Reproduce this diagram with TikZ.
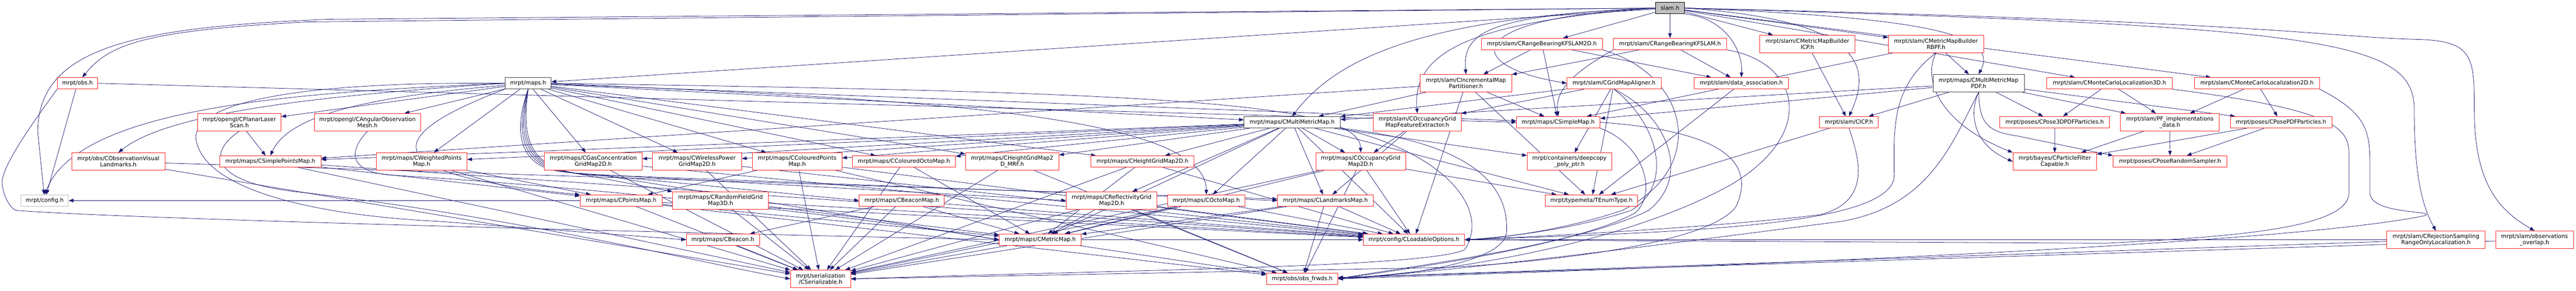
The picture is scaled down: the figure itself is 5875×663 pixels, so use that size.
\documentclass[tikz,border=0pt]{standalone}
\usepackage{fontspec}
\newfontfamily\nodefont{DejaVu Sans}
\usetikzlibrary{arrows.meta}
\definecolor{mblue}{HTML}{191970}
\definecolor{nred}{HTML}{FF2020}
\definecolor{ngray}{HTML}{BFBFBF}
\definecolor{nblack}{HTML}{404040}
\pgfdeclarelayer{bg}
\pgfsetlayers{bg,main}
\tikzset{
  nd/.style={draw=nred, line width=1pt, fill=white, inner sep=0pt, align=center,
    minimum height=26pt, font=\nodefont\fontsize{12.8}{14}\selectfont},
  two/.style={minimum height=40pt},
  w/.style={minimum width=#1pt},
  blk/.style={draw=nblack},
  e/.style={draw=mblue, line width=0.9pt, -{Triangle[length=11pt,width=8pt]}},
}
\begin{document}
\begin{tikzpicture}[x=1pt,y=-1pt]
\useasboundingbox (0,0) rectangle (5875,663);
% rank 0
\node[nd,w=66.5,draw=black,fill=ngray] (slam) at (3808.7,18.4) {slam.h};
% rank 1
\node[nd,w=275.7] (rbkf2d) at (3516.6,100.4) {mrpt/slam/CRangeBearingKFSLAM2D.h};
\node[nd,w=258.6] (rbkf) at (3808.7,100.4) {mrpt/slam/CRangeBearingKFSLAM.h};
\node[nd,two,w=216.7] (mmbicp) at (4122,100.3) {mrpt/slam/CMetricMapBuilder\\ICP.h};
\node[nd,two,w=217] (mmbrbpf) at (4415.3,100.3) {mrpt/slam/CMetricMapBuilder\\RBPF.h};
% rank 2
\node[nd,w=92.3] (obs) at (176.8,190) {mrpt/obs.h};
\node[nd,w=105,blk] (maps) at (1204.5,190) {mrpt/maps.h};
\node[nd,two,w=208.6] (incpart) at (3343.3,190) {mrpt/slam/CIncrementalMap\\Partitioner.h};
\node[nd,w=214.3] (gma) at (3681,190) {mrpt/slam/CGridMapAligner.h};
\node[nd,w=214.7] (da) at (3971.3,190) {mrpt/slam/data\_association.h};
\node[nd,two,w=208,blk] (mmpdf) at (4512.5,190) {mrpt/maps/CMultiMetricMap\\PDF.h};
\node[nd,w=286] (mcl3d) at (4811,190) {mrpt/slam/CMonteCarloLocalization3D.h};
\node[nd,w=285.5] (mcl2d) at (5147.3,190) {mrpt/slam/CMonteCarloLocalization2D.h};
% rank 3
\node[nd,w=219.6,blk] (mmm) at (2947,279) {mrpt/maps/CMultiMetricMap.h};
\node[nd,two,w=190.4] (planar) at (545.8,279) {mrpt/opengl/CPlanarLaser\\Scan.h};
\node[nd,two,w=242.3] (angular) at (838,279) {mrpt/opengl/CAngularObservation\\Mesh.h};
\node[nd,two,w=200] (ogmfe) at (3232.4,279) {mrpt/slam/COccupancyGrid\\MapFeatureExtractor.h};
\node[nd,w=190.4] (smap) at (3553.8,279) {mrpt/maps/CSimpleMap.h};
\node[nd,w=133.7] (icp) at (4216.8,279) {mrpt/slam/CICP.h};
\node[nd,w=250.7] (p3dpdf) at (4686,279) {mrpt/poses/CPose3DPDFParticles.h};
\node[nd,two,w=226] (pfimpl) at (4948.7,279) {mrpt/slam/PF\_implementations\\\_data.h};
\node[nd,w=231.4] (ppdf) at (5202.3,279) {mrpt/poses/CPosePDFParticles.h};
% rank 4
\node[nd,two,w=212] (ovl) at (270,368.5) {mrpt/obs/CObservationVisual\\Landmarks.h};
\node[nd,w=231] (spm) at (616.5,368.5) {mrpt/maps/CSimplePointsMap.h};
\node[nd,two,w=207] (wpm) at (961.5,368.5) {mrpt/maps/CWeightedPoints\\Map.h};
\node[nd,two,w=223] (gas) at (1353,368.5) {mrpt/maps/CGasConcentration\\GridMap2D.h};
\node[nd,two,w=203] (wire) at (1590,368.5) {mrpt/maps/CWirelessPower\\GridMap2D.h};
\node[nd,two,w=204] (cpm) at (1818,368.5) {mrpt/maps/CColouredPoints\\Map.h};
\node[nd,w=234.7] (com) at (2061.6,368.5) {mrpt/maps/CColouredOctoMap.h};
\node[nd,two,w=212.7] (hmrf) at (2308.4,368.5) {mrpt/maps/CHeightGridMap2\\D\_MRF.h};
\node[nd,w=235] (hgm) at (2605.5,368.5) {mrpt/maps/CHeightGridMap2D.h};
\node[nd,two,w=204.6] (ogm) at (3103.3,368.5) {mrpt/maps/COccupancyGrid\\Map2D.h};
\node[nd,two,w=192.5] (deep) at (3579.3,368.5) {mrpt/containers/deepcopy\\\_poly\_ptr.h};
\node[nd,two,w=190.8] (pfc) at (4686.2,368.5) {mrpt/bayes/CParticleFilter\\Capable.h};
\node[nd,w=259] (prs) at (4949,368.5) {mrpt/poses/CPoseRandomSampler.h};
% rank 5
\node[nd,w=108,draw=ngray] (config) at (102,457.5) {mrpt/config.h};
\node[nd,w=187] (pm) at (1416.5,457.5) {mrpt/maps/CPointsMap.h};
\node[nd,two,w=218.5] (rfg) at (1643.3,457.5) {mrpt/maps/CRandomFieldGrid\\Map3D.h};
\node[nd,w=194] (bmap) at (2056.6,457.5) {mrpt/maps/CBeaconMap.h};
\node[nd,two,w=206.6] (refl) at (2535.3,457.5) {mrpt/maps/CReflectivityGrid\\Map2D.h};
\node[nd,w=175.5] (octo) at (2751.2,457.5) {mrpt/maps/COctoMap.h};
\node[nd,w=219] (lmap) at (3022.9,457.5) {mrpt/maps/CLandmarksMap.h};
\node[nd,w=210.4] (tenum) at (3629.6,457.5) {mrpt/typemeta/TEnumType.h};
% rank 6
\node[nd,w=167] (beacon) at (1648.5,547) {mrpt/maps/CBeacon.h};
\node[nd,w=187] (metric) at (2372.5,547) {mrpt/maps/CMetricMap.h};
\node[nd,w=230.5] (lopt) at (3224.8,547) {mrpt/config/CLoadableOptions.h};
\node[nd,two,w=224] (rej) at (5555.5,547) {mrpt/slam/CRejectionSampling\\RangeOnlyLocalization.h};
\node[nd,two,w=177.3] (ovlap) at (5780.4,547) {mrpt/slam/observations\\\_overlap.h};
% rank 7
\node[nd,two,w=137.3] (ser) at (1871.4,636.3) {mrpt/serialization\\/CSerializable.h};
\node[nd,w=162.5] (ofw) at (2969.8,636) {mrpt/obs/obs\_frwds.h};

\begin{pgfonlayer}{bg}
\fill[white] (0,0) rectangle (5875,663);
% straight connectors
\foreach \a/\b in {slam/maps, slam/rbkf2d, slam/rbkf, slam/mmbicp, slam/mmbrbpf, slam/mcl3d, slam/mcl2d,
  obs/config,
  maps/planar, maps/angular, maps/wpm, maps/gas, maps/wire, maps/cpm, maps/com, maps/hmrf, maps/hgm, maps/mmm, maps/smap,
  mmm/spm, mmm/wpm, mmm/gas, mmm/wire, mmm/cpm, mmm/com, mmm/hmrf, mmm/hgm, mmm/refl, mmm/octo, mmm/lmap, mmm/ogm, mmm/metric, mmm/deep, mmm/lopt, mmm/tenum,
  incpart/mmm, incpart/smap, incpart/spm, incpart/tenum, incpart/lopt,
  rbkf2d/smap, rbkf2d/da, rbkf2d/incpart, rbkf/da, rbkf/incpart,
  mmbicp/icp, mmbrbpf/mmpdf, mmbrbpf/smap,
  mmpdf/smap, mmpdf/mmm, mmpdf/icp, mmpdf/p3dpdf, mmpdf/pfimpl, mmpdf/ppdf,
  mcl3d/p3dpdf, mcl3d/pfimpl, mcl2d/pfimpl, mcl2d/ppdf,
  pfimpl/pfc, pfimpl/prs, p3dpdf/pfc, ppdf/pfc, ppdf/prs,
  icp/tenum, da/tenum, gma/tenum, gma/deep, gma/mmm, gma/ogmfe,
  ogmfe/ogm, ogmfe/lmap, ovl/lmap, ovl/ser, planar/spm,
  spm/pm, spm/ser, spm/lopt, wpm/pm, wpm/ser, gas/ser, gas/lopt, wire/ser, wire/lopt,
  cpm/pm, cpm/ser, cpm/lopt, cpm/ofw, com/metric, com/ser, hmrf/ser, hmrf/ofw,
  hgm/metric, hgm/ser, hgm/lopt, ogm/lopt, ogm/ofw, ogm/tenum, ogm/ser, ogm/metric,
  pm/config, pm/ser, pm/metric, pm/lopt, pm/ofw, rfg/ser, rfg/lopt, rfg/metric,
  bmap/beacon, bmap/ser, bmap/metric, bmap/lopt, refl/metric, refl/ser, refl/lopt, refl/ofw,
  octo/metric, octo/ser, octo/lopt, lmap/ofw, lmap/lopt, lmap/ser, lmap/metric,
  beacon/ser, metric/ser, metric/ofw, metric/lopt, rej/ofw, rej/lopt, ovlap/ofw}
  \draw[e] (\a) -- (\b);
\draw[e] (obs.east) -- (smap.west);
% curved connectors from slam.h
\draw[e] (slam.west) -- (750,44) .. controls (300,62) and (88,110) .. (86,300) -- (config);
\draw[e] (slam.west) -- (700,50) .. controls (330,70) and (250,100) .. (obs);
\draw[e] (slam.west) .. controls (3250,40) and (3050,130) .. (mmm.north);
\draw[e] (slam.west) .. controls (3400,35) and (3335,70) .. (incpart.north);
\draw[e] (slam.west) .. controls (3350,50) and (3220,120) .. (ogmfe.north);
\draw[e] (slam.west) .. controls (3330,40) and (3330,150) .. (gma.west);
\draw[e] (slam.south east) .. controls (3930,40) and (3975,110) .. (da.north);
\draw[e] (slam.east) .. controls (4230,45) and (4275,140) .. (icp.north);
\draw[e] (slam.east) .. controls (4400,40) and (4560,80) .. (mmpdf.north);
\draw[e] (slam.east) .. controls (5300,60) and (5506,90) .. (5506,250) .. controls (5506,420) and (5530,480) .. (rej.north);
\draw[e] (slam.east) .. controls (5200,50) and (5300,85) .. (5520,90) .. controls (5640,95) and (5643,130) .. (5643,250) .. controls (5643,420) and (5700,480) .. (ovlap.north);
% obs.h loop
\draw[e] (obs.south west) .. controls (90,260) and (0,380) .. (5,420) .. controls (10,460) and (30,478) .. (36,480) .. controls (300,500) and (1500,530) .. (metric.west);
% curved connectors from maps.h
\draw[e] (maps.west) .. controls (700,210) and (180,240) .. (config.north);
\draw[e] (maps.west) .. controls (700,220) and (380,260) .. (ovl.north);
\draw[e] (maps) .. controls (850,220) and (660,260) .. (spm.north);
\draw[e] (maps.south west) .. controls (950,280) and (760,390) .. (pm.north west);
\draw[e] (maps.west) .. controls (600,185) and (420,250) .. (450,330) .. controls (480,430) and (700,490) .. (1000,505) -- (beacon.west);
\draw[e] (maps.south) .. controls (1170,300) and (1180,390) .. (1300,393) -- (rfg.north west);
\draw[e] (maps.south) .. controls (1175,305) and (1185,392) .. (1320,395) -- (bmap.west);
\draw[e] (maps.south) .. controls (1180,310) and (1190,394) .. (1340,397) -- (refl.west);
\draw[e] (maps.south) .. controls (1185,315) and (1195,396) .. (1360,399) -- (lmap.west);
\draw[e] (maps.south) .. controls (1190,320) and (1200,398) .. (1380,401) -- (metric.west);
\draw[e] (maps.east) .. controls (2000,225) and (2750,250) .. (octo.north);
\draw[e] (maps.east) .. controls (2600,210) and (3100,230) .. (ogm.north);
% other curved connectors
\draw[e] (mmm.south east) .. controls (3300,350) and (3400,480) .. (3340,570) .. controls (3250,610) and (2600,615) .. (ser.east);
\draw[e] (mmm.south east) .. controls (3400,330) and (3440,450) .. (3436,530) .. controls (3430,600) and (3200,630) .. (ofw.east);
\draw[e] (rbkf.south west) .. controls (3600,160) and (3545,200) .. (smap.north);
\draw[e] (rbkf2d.south east) .. controls (3850,170) and (3900,380) .. (3700,480) .. controls (3550,530) and (3400,545) .. (lopt.east);
\draw[e] (rbkf.south east) .. controls (4100,140) and (4150,300) .. (3950,420) .. controls (3700,560) and (3300,620) .. (ofw.east);
\draw[e] (mmbrbpf.south) .. controls (4385,180) and (4420,280) .. (pfc.north west);
\draw[e] (mmbrbpf.south) .. controls (4310,200) and (4320,300) .. (4320,400) .. controls (4320,520) and (3800,530) .. (lopt.east);
\draw[e] (mmpdf.south) .. controls (4515,280) and (4530,300) .. (4600,310) -- (prs.north west);
\draw[e] (mmpdf.south) .. controls (4490,260) and (4500,330) .. (pfc.west);
\draw[e] (mmpdf.south) .. controls (4450,330) and (4400,470) .. (4200,505) .. controls (3700,570) and (3300,620) .. (ofw.east);
\draw[e] (mcl3d.south east) .. controls (5320,250) and (5357,290) .. (5357,350) -- (5357,440) .. controls (5357,520) and (5100,540) .. (4800,555) -- (lopt.east);
\draw[e] (mcl2d.south east) .. controls (5400,260) and (5405,300) .. (5405,380) -- (5405,440) .. controls (5405,490) and (5560,480) .. (5530,492) .. controls (5300,540) and (4500,590) .. (ofw.east);
\draw[e] (icp.south) .. controls (4240,360) and (4270,460) .. (4150,490) .. controls (3900,520) and (3500,540) .. (lopt.east);
\draw[e] (gma.south) .. controls (3800,260) and (3860,400) .. (3760,480) .. controls (3600,560) and (3200,610) .. (ofw.east);
\draw[e] (gma.south) .. controls (3780,280) and (3820,420) .. (3720,480) .. controls (3600,520) and (3450,540) .. (lopt.east);
\draw[e] (smap.east) .. controls (3950,300) and (4000,380) .. (3960,470) .. controls (3900,560) and (3500,600) .. (3300,610) -- (ser.east);
\draw[e] (smap.south east) .. controls (3750,330) and (3780,440) .. (3730,485) .. controls (3600,560) and (3200,615) .. (ofw.east);
\draw[e] (planar.south) .. controls (470,350) and (480,420) .. (700,440) .. controls (1200,500) and (1600,600) .. (ser.west);
\draw[e] (angular.south) .. controls (790,350) and (800,395) .. (900,400) .. controls (1400,430) and (2000,500) .. (metric.west);
\end{pgfonlayer}
\end{tikzpicture}
\end{document}
